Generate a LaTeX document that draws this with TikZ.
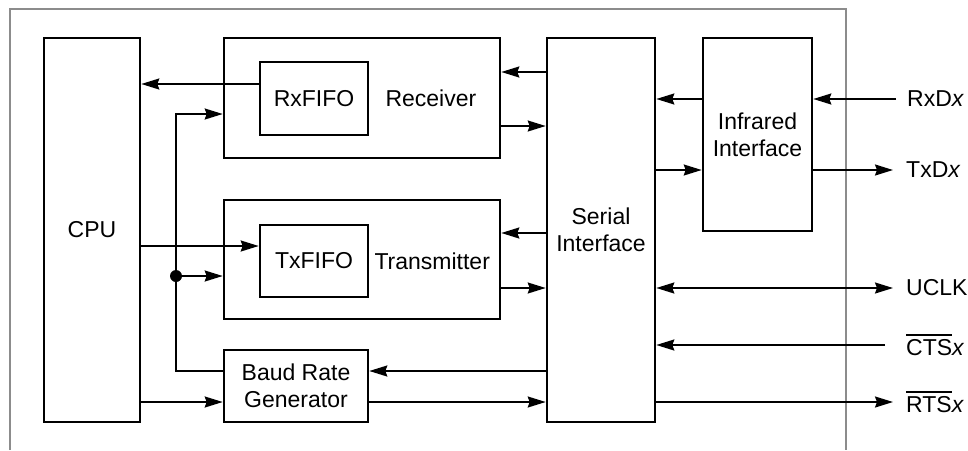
\documentclass[tikz,border=0pt]{standalone}
\usepackage{fontspec}
\setmainfont{Liberation Sans}
\usetikzlibrary{arrows.meta, positioning}
\tikzset{box/.style={rectangle,draw,line width=2.6pt,align=center,inner sep=0pt,font=\fontsize{23}{27}\selectfont},tag/.style={inner sep=0pt,font=\fontsize{23}{27}\selectfont},line/.style={-{Stealth[length=18pt,width=11pt,inset=2pt]},line width=1.8pt},both/.style={{Stealth[length=18pt,width=11pt,inset=2pt]}-{Stealth[length=18pt,width=11pt,inset=2pt]},line width=1.8pt},frame/.style={draw=black!45,line width=2.6pt}}
\newcommand{\actlow}[1]{\setbox0\hbox{#1}\rlap{\rule[\dimexpr\ht0+4pt\relax]{\wd0}{1.8pt}}\box0}

\begin{document}
\begin{tikzpicture}[x=1pt,y=-1pt]
\useasboundingbox (0,0) rectangle (968,450);
\draw[frame] (10,450) -- (10,9) -- (846,9) -- (846,450);
\node[box,minimum width=96pt,minimum height=384pt] (cpu) at (92,230) {CPU};
\node[box,minimum width=276pt,minimum height=120pt] (rx) at (362,98) {};
\node[box,minimum width=108pt,minimum height=73pt] (rxfifo) at (314,98.5) {RxFIFO};
\node[tag,right=16pt of rxfifo] (rxlbl) {Receiver};
\node[box,minimum width=276pt,minimum height=119pt] (tx) at (362,259.5) {};
\node[box,minimum width=108pt,minimum height=72pt] (txfifo) at (314,261) {TxFIFO};
\node[tag,right=5pt of txfifo] (txlbl) {Transmitter};
\node[box,minimum width=144pt,minimum height=72pt] (baud) at (296,386) {Baud Rate\\Generator};
\node[box,minimum width=108pt,minimum height=384pt] (ser) at (601,230) {Serial\\Interface};
\node[box,minimum width=109pt,minimum height=193pt] (ir) at (757.5,134.5) {Infrared\\Interface};
\coordinate (jn) at (176,276);
\coordinate (pRxD) at (896,99);
\coordinate (pTxD) at (893,170);
\coordinate (pUCLK) at (893,288);
\coordinate (pCTS) at (885,345);
\coordinate (pRTS) at (893,402);
\node[tag,right=11pt of pRxD] (lRxD) {RxD\textit{x}};
\node[tag,right=13pt of pTxD] (lTxD) {TxD\textit{x}};
\node[tag,right=13pt of pUCLK] (lUCLK) {UCLK};
\node[tag,right=21pt of pCTS] (lCTS) {\actlow{CTS}\textit{x}};
\node[tag,right=13pt of pRTS] (lRTS) {\actlow{RTS}\textit{x}};
\draw[line] ([yshift=14.5pt]rxfifo.west) -- ([yshift=14.5pt]rxfifo.west -| cpu.east);
\draw[line] ([yshift=15pt]baud.west) -| (jn) |- ([yshift=-16pt]rx.west);
\draw[line] (jn) -- (jn -| tx.west);
\fill (jn) circle (6pt);
\draw[line] ([yshift=15pt]txfifo.west -| cpu.east) -- ([yshift=15pt]txfifo.west);
\draw[line] ([yshift=-16pt]baud.west -| cpu.east) -- ([yshift=-16pt]baud.west);
\draw[line] ([yshift=26pt]rx.east -| ser.west) -- ([yshift=26pt]rx.east);
\draw[line] ([yshift=-28pt]rx.east) -- ([yshift=-28pt]rx.east -| ser.west);
\draw[line] ([yshift=26.5pt]tx.east -| ser.west) -- ([yshift=26.5pt]tx.east);
\draw[line] ([yshift=-28.5pt]tx.east) -- ([yshift=-28.5pt]tx.east -| ser.west);
\draw[line] ([yshift=15pt]baud.east -| ser.west) -- ([yshift=15pt]baud.east);
\draw[line] ([yshift=-16pt]baud.east) -- ([yshift=-16pt]baud.east -| ser.west);
\draw[line] ([yshift=35.5pt]ir.west) -- ([yshift=35.5pt]ir.west -| ser.east);
\draw[line] ([yshift=-35.5pt]ir.west -| ser.east) -- ([yshift=-35.5pt]ir.west);
\draw[line] (pRxD) -- (pRxD -| ir.east);
\draw[line] (pTxD -| ir.east) -- (pTxD);
\draw[both] (pUCLK -| ser.east) -- (pUCLK);
\draw[line] (pCTS) -- (pCTS -| ser.east);
\draw[line] (pRTS -| ser.east) -- (pRTS);
\end{tikzpicture}
\end{document}
